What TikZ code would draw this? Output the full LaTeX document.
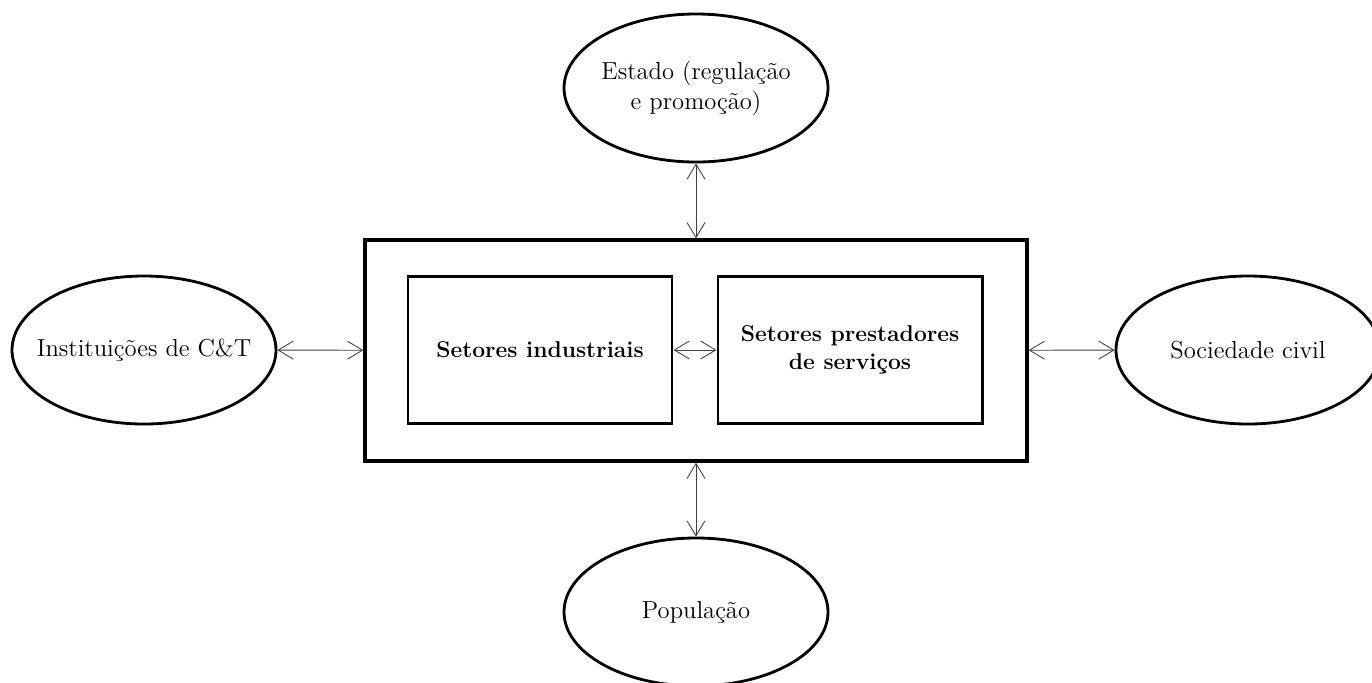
\documentclass[tikz,border=0pt]{standalone}
\usepackage{tikz}
\usetikzlibrary{arrows.meta,shapes.geometric}

\begin{document}
\begin{tikzpicture}[>={Straight Barb[length=3mm,width=3.6mm]}]

	\tikzstyle actor=[ellipse, draw, line width=1.6pt, minimum width=5.28cm, minimum height=2.96cm, inner xsep=-0.4cm, inner ysep=0pt, align=center, font=\fontsize{14}{17}\selectfont];
	\tikzstyle sector box=[rectangle, draw, line width=1.7pt, minimum width=5.28cm, minimum height=2.94cm, align=center, font=\fontsize{13}{16}\selectfont\bfseries];
	\tikzstyle link lines=[<->, line width=0.5pt, black!75];

	\useasboundingbox (0,0) rectangle (27.44,-13.64);

	% the enterprise block
	\node[rectangle, draw, line width=1.9pt, minimum width=13.24cm, minimum height=4.42cm] (empresas) at (13.92,-7.01) {};
	\node[sector box] (industria) at (10.8,-7.0) {Setores industriais};
	\node[sector box] (servicos) at (17.0,-7.0) {Setores prestadores\\de servi\c{c}os};

	% actors around it
	\node[actor] (estado) at (13.92,-1.76) {Estado (regula\c{c}\~ao\\e promo\c{c}\~ao)};
	\node[actor] (populacao) at (13.92,-12.24) {Popula\c{c}\~ao};
	\node[actor] (ciencia) at (2.88,-7.0) {Institui\c{c}\~oes de C\&T};
	\node[actor] (sociedade) at (24.96,-7.0) {Sociedade civil};

	\draw[link lines] (industria) -- (servicos);
	\draw[link lines] (estado) -- (empresas);
	\draw[link lines] (empresas) -- (populacao);
	\draw[link lines] (ciencia) -- (empresas);
	\draw[link lines] (empresas) -- (sociedade);

\end{tikzpicture}
\end{document}
